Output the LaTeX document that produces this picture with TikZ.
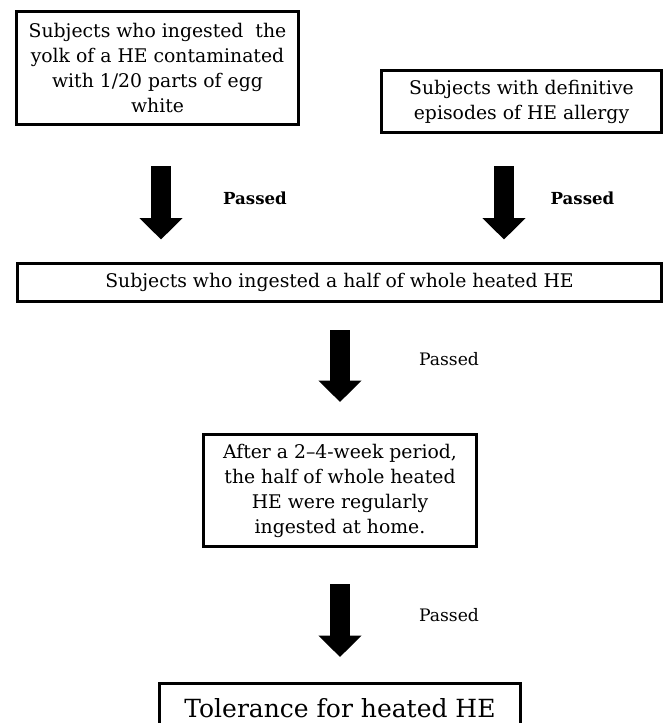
\documentclass[tikz,border=0pt]{standalone}
\usepackage{fontspec}
\setmainfont{DejaVu Serif}
\usetikzlibrary{arrows.meta}
\tikzset{
  stepbox/.style={draw=black, line width=3pt, inner sep=0pt, align=center, font=\fontsize{18.8}{25}\selectfont},
  passlabel/.style={font=\fontsize{17.2}{19}\selectfont},
  boldlabel/.style={font=\fontsize{16.6}{19}\bfseries\selectfont},
  bigarrow/.style={line width=20.5pt, -{Triangle[width=42pt, length=21.5pt]}}
}

\begin{document}
\begin{tikzpicture}[x=1pt, y=-1pt]
\useasboundingbox (0,0) rectangle (664,723);

\node[stepbox, minimum width=282, minimum height=113](yolk) at (157.5,68){Subjects who ingested\ \ the\\yolk of a HE contaminated\\with 1/20 parts of egg\\white};
\node[stepbox, minimum width=280, minimum height=62](allergy) at (521.5,101.5){Subjects with definitive\\episodes of HE allergy};

\node[stepbox, minimum width=644, minimum height=38](half) at (339.5,282.5){Subjects who ingested a half of whole heated HE};

\node[stepbox, minimum width=273, minimum height=112](home) at (340,490.5){After a 2--4-week period,\\the half of whole heated\\HE were regularly\\ingested at home.};

\node[stepbox, minimum width=361, minimum height=60, font=\fontsize{25}{30}\selectfont, text height=20pt, text depth=13pt](tolerance) at (340,713.5){Tolerance for heated HE};

% arrows between the steps
\coordinate (yolk out) at (161,166);
\coordinate (yolk in) at (161,239.5);
\coordinate (allergy out) at (504,166);
\coordinate (allergy in) at (504,239.5);
\coordinate (half out) at (340,330);
\coordinate (half in) at (340,402);
\coordinate (home out) at (340,584);
\coordinate (home in) at (340,657);

\draw[bigarrow] (yolk out) -- (yolk in);
\draw[bigarrow] (allergy out) -- (allergy in);
\draw[bigarrow] (half out) -- (half in);
\draw[bigarrow] (home out) -- (home in);

\node[boldlabel](pass1) at (255,198){Passed};
\node[boldlabel](pass2) at (582.5,198){Passed};
\node[passlabel](pass3) at (449,359){Passed};
\node[passlabel](pass4) at (449,615){Passed};
\end{tikzpicture}
\end{document}
